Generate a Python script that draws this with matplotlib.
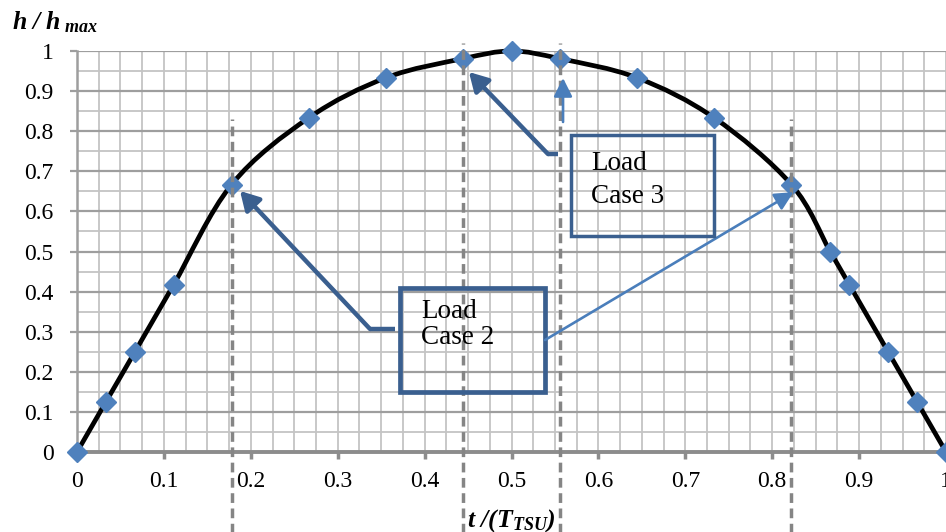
import numpy as np
import matplotlib.pyplot as plt
from matplotlib.path import Path
from matplotlib.patches import PathPatch, Rectangle

# values
t_ratio = [0, 0.0333, 0.0667, 0.1111, 0.1778, 0.2667, 0.3556, 0.4444, 0.5,
           0.5556, 0.6444, 0.7333, 0.8222, 0.8667, 0.8889, 0.9333, 0.9667, 1.0]
h_ratio = [0, 0.125, 0.25, 0.4167, 0.6667, 0.8333, 0.9333, 0.981, 1.0,
           0.981, 0.9333, 0.8333, 0.6667, 0.5, 0.4167, 0.25, 0.125, 0]
x_ticks = [0, 0.1, 0.2, 0.3, 0.4, 0.5, 0.6, 0.7, 0.8, 0.9, 1]
y_ticks = [0, 0.1, 0.2, 0.3, 0.4, 0.5, 0.6, 0.7, 0.8, 0.9, 1]
case2_idx = [4, 12]
case3_idx = [7, 9]

DARK = '#3A5F8F'
LIGHT = '#4A7EBB'
MARK = '#4F81BD'

plt.rcParams['font.family'] = 'Liberation Serif'
plt.rcParams['mathtext.fontset'] = 'custom'
plt.rcParams['mathtext.rm'] = 'Liberation Serif'
plt.rcParams['mathtext.it'] = 'Liberation Serif:italic'
plt.rcParams['mathtext.bf'] = 'Liberation Serif:bold'
plt.rcParams['mathtext.bfit'] = 'Liberation Serif:bold:italic'

fig = plt.figure(figsize=(9.46, 5.32), dpi=100)
ax = fig.add_axes([77 / 946, 80 / 532, 869 / 946, 401 / 532])
ax.set_xlim(0, 1)
ax.set_ylim(0, 1)

# grid
ax.set_axisbelow(True)
ax.set_xticks(x_ticks)
ax.set_yticks(y_ticks)
ax.set_xticklabels([f'{v:g}' for v in x_ticks])
ax.set_yticklabels([f'{v:g}' for v in y_ticks])
ax.set_xticks(np.arange(0, 1.001, 0.025), minor=True)
ax.set_yticks(np.arange(0, 1.001, 0.05), minor=True)
ax.grid(which='minor', color='#c4c4c4', lw=1.3)
ax.grid(which='major', axis='x', color='#c4c4c4', lw=1.3)
ax.grid(which='major', axis='y', color='#9e9e9e', lw=1.6)
ax.tick_params(which='minor', length=0)
ax.tick_params(axis='x', which='major', length=5, width=2.5, color='#8c8c8c',
               labelsize=17, pad=9)
ax.tick_params(axis='y', which='major', length=5, width=1.6, color='#9e9e9e',
               labelsize=17, pad=12)
for s in ['top', 'right']:
    ax.spines[s].set_visible(False)
ax.spines['left'].set_color('#9e9e9e')
ax.spines['left'].set_linewidth(1.8)
ax.spines['bottom'].set_color('#8c8c8c')
ax.spines['bottom'].set_linewidth(2.8)

# smoothed curve (Catmull-Rom as cubic Bezier, like Excel's smoothing)
pts = np.column_stack([t_ratio, h_ratio])
verts = [pts[0]]
codes = [Path.MOVETO]
n = len(pts)
for i in range(n - 1):
    p0 = pts[max(i - 1, 0)]
    p1 = pts[i]
    p2 = pts[i + 1]
    p3 = pts[min(i + 2, n - 1)]
    verts += [p1 + (p2 - p0) / 6, p2 - (p3 - p1) / 6, p2]
    codes += [Path.CURVE4] * 3
ax.add_patch(PathPatch(Path(verts, codes), fc='none', ec='black', lw=3.4,
                       zorder=3, clip_on=False))
ax.plot(t_ratio, h_ratio, 'D', ms=10.5, color=MARK, mec=MARK, zorder=4,
        clip_on=False)

# dashed guide lines
dash = dict(color='#858585', lw=2.5, ls=(0, (2.8, 1.6)), zorder=5,
            clip_on=False)
for i in case2_idx:
    ax.plot([t_ratio[i], t_ratio[i]], [-0.25, 0.83], **dash)
for i in case3_idx:
    ax.plot([t_ratio[i], t_ratio[i]], [-0.25, 1.02], **dash)

# Load Case 2 box and arrows
ax.add_patch(Rectangle((0.3717, 0.1496), 0.1669, 0.2594, fc='none', ec=DARK,
                       lw=3.4, zorder=6))
ax.text(0.396, 0.334, 'Load', fontsize=19.5, va='baseline', zorder=7)
ax.text(0.396, 0.269, 'Case 2', fontsize=19.5, va='baseline', zorder=7)
ax.plot([0.3659, 0.3372], [0.3067, 0.3067], color=DARK, lw=3.2, zorder=6,
        solid_capstyle='butt')
ax.annotate('', xy=(0.1876, 0.651), xytext=(0.3372, 0.3067),
            arrowprops=dict(arrowstyle='-|>,head_length=0.7,head_width=0.4',
                            color=DARK, lw=3.2, mutation_scale=16,
                            shrinkA=0, shrinkB=0), zorder=6)
ax.annotate('', xy=(0.8245, 0.648), xytext=(0.5386, 0.2793),
            arrowprops=dict(arrowstyle='-|>,head_length=0.7,head_width=0.35',
                            color=LIGHT, lw=1.9, mutation_scale=16,
                            shrinkA=0, shrinkB=0), zorder=6)

# Load Case 3 box and arrows
ax.add_patch(Rectangle((0.5685, 0.5387), 0.1645, 0.2518, fc='none', ec=DARK,
                       lw=2.5, zorder=6))
ax.text(0.5915, 0.703, 'Load', fontsize=19.5, va='baseline', zorder=7)
ax.text(0.5915, 0.621, 'Case 3', fontsize=19.5, va='baseline', zorder=7)
ax.plot([0.5535, 0.542], [0.743, 0.743], color=DARK, lw=3.2, zorder=6,
        solid_capstyle='butt')
ax.annotate('', xy=(0.451, 0.9476), xytext=(0.542, 0.743),
            arrowprops=dict(arrowstyle='-|>,head_length=0.7,head_width=0.4',
                            color=DARK, lw=3.2, mutation_scale=16,
                            shrinkA=0, shrinkB=0), zorder=6)
ax.annotate('', xy=(0.5593, 0.9327), xytext=(0.5593, 0.823),
            arrowprops=dict(arrowstyle='-|>,head_length=0.7,head_width=0.35',
                            color=LIGHT, lw=1.9, mutation_scale=16,
                            shrinkA=0, shrinkB=0), zorder=6)

# axis titles
fig.text(12 / 946, 1 - 29 / 532, r'$\mathbfit{h\ /\ h}_{\ \mathbfit{max}}$',
         fontsize=18.5, va='baseline', ha='left')
fig.text(511 / 946, 5 / 532,
         r'$\mathbfit{t}\ \mathbfit{/(T}_{\mathbfit{TSU}}\mathbfit{)}$',
         fontsize=18.5, va='baseline', ha='center')

fig.savefig('out.png', dpi=100)
